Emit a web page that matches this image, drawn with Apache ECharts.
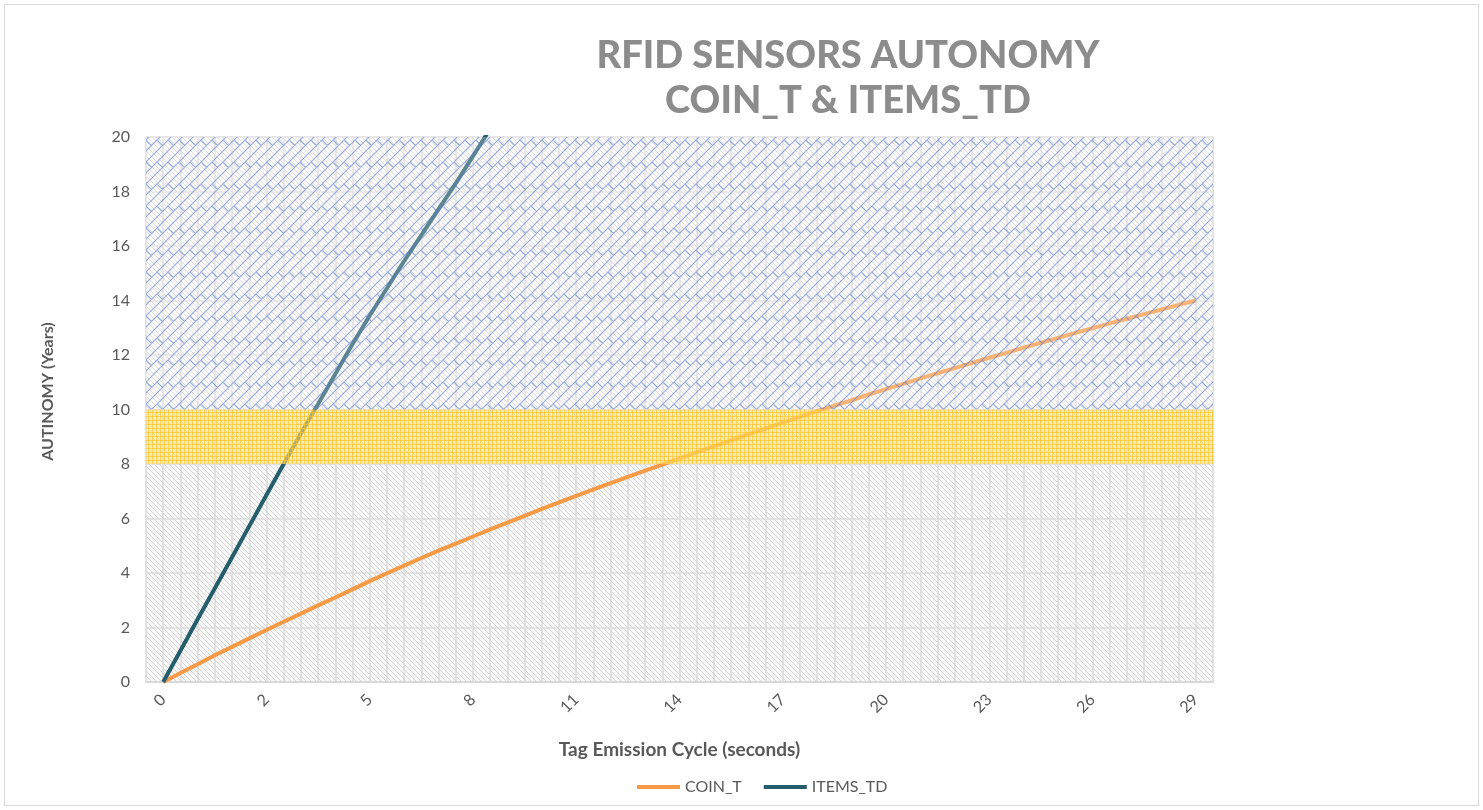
<!DOCTYPE html>
<html>
<head>
<meta charset="utf-8">
<title>RFID Sensors Autonomy</title>
<script src="https://cdn.jsdelivr.net/npm/echarts@6/dist/echarts.min.js"></script>
<style>
  html, body { margin: 0; padding: 0; background: #fff; }
  #main { width: 1483px; height: 810px; }
  .frame { position: absolute; left: 4px; top: 4px; width: 1473px; height: 800px; border: 1px solid #d9d9d9; pointer-events: none; }
</style>
</head>
<body>
<div id="main"></div>
<div class="frame"></div>
<script>
// x tick labels (one every 6 categories, excel shows the cycle rounded down)
var tickLabels = ['0', '2', '5', '8', '11', '14', '17', '20', '23', '26', '29'];
var catCount = 63;          // 61 cycle steps + an empty slot at each plot edge
var labelStep = 6;
// autonomy bands : grey 0-8, yellow 8-10, blue 10-20
var bandEdges = [0, 8, 10, 20];

// autonomy in years, one value per category step
var coinT = [0, 0.33, 0.65, 0.98, 1.29, 1.6, 1.91, 2.21, 2.51, 2.81,
  3.1, 3.4, 3.7, 3.99, 4.27, 4.55, 4.82, 5.08, 5.34, 5.6,
  5.85, 6.1, 6.35, 6.59, 6.83, 7.07, 7.3, 7.53, 7.76, 7.98,
  8.2, 8.43, 8.65, 8.87, 9.09, 9.3, 9.52, 9.73, 9.94, 10.14,
  10.34, 10.55, 10.75, 10.94, 11.14, 11.33, 11.52, 11.71, 11.9, 12.08,
  12.27, 12.45, 12.63, 12.81, 12.98, 13.16, 13.33, 13.5, 13.67, 13.84, 14.0];
var itemsTd = [0, 1.15, 2.3, 3.44, 4.58, 5.72, 6.86, 8.0, 9.12, 10.2,
  11.3, 12.4, 13.45, 14.45, 15.45, 16.4, 17.35, 18.3, 19.3, 20.3];

var cats = [];
for (var i = 0; i < catCount; i++) cats.push(String(i));

// small canvas tiles to fake the excel pattern fills
function tile(w, h, draw) {
  var c = document.createElement('canvas');
  c.width = w; c.height = h;
  var ctx = c.getContext('2d');
  draw(ctx, w, h);
  return c;
}
function wrapLines(ctx, w, h, segs) {
  [-1, 0, 1].forEach(function (ox) {
    [-1, 0, 1].forEach(function (oy) {
      segs.forEach(function (s) {
        ctx.moveTo(s[0] + ox * w, s[1] + oy * h);
        ctx.lineTo(s[2] + ox * w, s[3] + oy * h);
      });
    });
  });
}
var greyHatch = tile(5, 5, function (ctx, w, h) {
  ctx.strokeStyle = '#d6d6d6';
  ctx.lineWidth = 1;
  ctx.beginPath();
  wrapLines(ctx, w, h, [[0, 0, 5, 5]]);
  ctx.stroke();
});
var yellowGrid = tile(4, 4, function (ctx) {
  ctx.fillStyle = 'rgba(255, 226, 135, 0.6)';
  ctx.fillRect(0, 0, 4, 4);
  ctx.strokeStyle = 'rgba(255, 196, 30, 0.65)';
  ctx.lineWidth = 1;
  ctx.beginPath();
  ctx.moveTo(0.5, 0); ctx.lineTo(0.5, 4);
  ctx.moveTo(0, 0.5); ctx.lineTo(4, 0.5);
  ctx.stroke();
});
var blueBrick = tile(22, 22, function (ctx, w, h) {
  ctx.fillStyle = 'rgba(255, 255, 255, 0.25)';
  ctx.fillRect(0, 0, 22, 22);
  ctx.strokeStyle = 'rgba(85, 115, 200, 0.55)';
  ctx.lineWidth = 1.1;
  ctx.beginPath();
  wrapLines(ctx, w, h, [[0, 11, 11, 0], [0, 22, 22, 0], [11, 22, 22, 11],
    [3, 8, 8.5, 13.5], [14, 8, 19.5, 13.5]]);
  ctx.stroke();
});

var chart = echarts.init(document.getElementById('main'));
var txt = '#595959';

var option = {
  animation: false,
  textStyle: { fontFamily: 'Lato' },
  graphic: [{
    type: 'text',
    x: 848, y: 33,
    style: {
      text: 'RFID SENSORS AUTONOMY\nCOIN_T & ITEMS_TD',
      textAlign: 'center',
      font: '900 38px Lato',
      lineHeight: 45,
      fill: '#8c8c8c'
    }
  }],
  legend: {
    data: ['COIN_T', 'ITEMS_TD'],
    left: 632, top: 774,
    icon: 'rect',
    itemWidth: 43, itemHeight: 4, itemGap: 22,
    textStyle: { color: txt, fontSize: 16 }
  },
  grid: {
    left: 146, right: 270, top: 137, bottom: 128,
    show: true, backgroundColor: '#f8f8f8', borderWidth: 0
  },
  xAxis: {
    type: 'category',
    data: cats,
    boundaryGap: false,
    name: 'Tag Emission Cycle (seconds)',
    nameLocation: 'middle',
    nameGap: 58,
    nameTextStyle: { color: txt, fontSize: 19, fontWeight: 'bold' },
    axisLine: { lineStyle: { color: '#d9d9d9', width: 2 } },
    axisTick: { show: false },
    axisLabel: {
      interval: function (idx) { return idx >= 1 && (idx - 1) % labelStep === 0; },
      formatter: function (v, idx) { return tickLabels[(idx - 1) / labelStep]; },
      rotate: 45, margin: 15, color: txt, fontSize: 16
    },
    splitLine: { show: true, interval: 0, lineStyle: { color: '#e2e2e2', width: 2 } }
  },
  yAxis: {
    type: 'value',
    min: 0, max: 20, interval: 2,
    name: 'AUTINOMY (Years)',
    nameLocation: 'middle',
    nameGap: 90,
    nameTextStyle: { color: txt, fontSize: 16, fontWeight: 'bold', padding: [0, 0, 0, 36] },
    axisLine: { show: false },
    axisTick: { show: false },
    axisLabel: { color: txt, fontSize: 16, margin: 16 },
    splitLine: { lineStyle: { color: '#dedede', width: 1.5 } }
  },
  series: [
    {
      name: 'bands-under', type: 'line', data: [], z: 1, silent: true,
      markArea: {
        z: 1, silent: true,
        itemStyle: { color: { image: greyHatch, repeat: 'repeat' } },
        data: [[{ yAxis: bandEdges[0] }, { yAxis: bandEdges[3] }]]
      }
    },
    {
      name: 'COIN_T', type: 'line', z: 3,
      data: ['-'].concat(coinT),
      symbol: 'none', smooth: false,
      lineStyle: { color: '#f79a46', width: 4 },
      itemStyle: { color: '#f79a46' }
    },
    {
      name: 'ITEMS_TD', type: 'line', z: 3,
      data: ['-'].concat(itemsTd),
      symbol: 'none', smooth: false,
      lineStyle: { color: '#245e6c', width: 4 },
      itemStyle: { color: '#245e6c' }
    },
    {
      name: 'bands-over', type: 'line', data: [], z: 5, silent: true,
      markArea: {
        z: 5, silent: true,
        data: [
          [{ yAxis: bandEdges[1], itemStyle: { color: { image: yellowGrid, repeat: 'repeat' } } }, { yAxis: bandEdges[2] }],
          [{ yAxis: bandEdges[2], itemStyle: { color: { image: blueBrick, repeat: 'repeat' } } }, { yAxis: bandEdges[3] }]
        ]
      }
    }
  ]
};
chart.setOption(option);
</script>
</body>
</html>
